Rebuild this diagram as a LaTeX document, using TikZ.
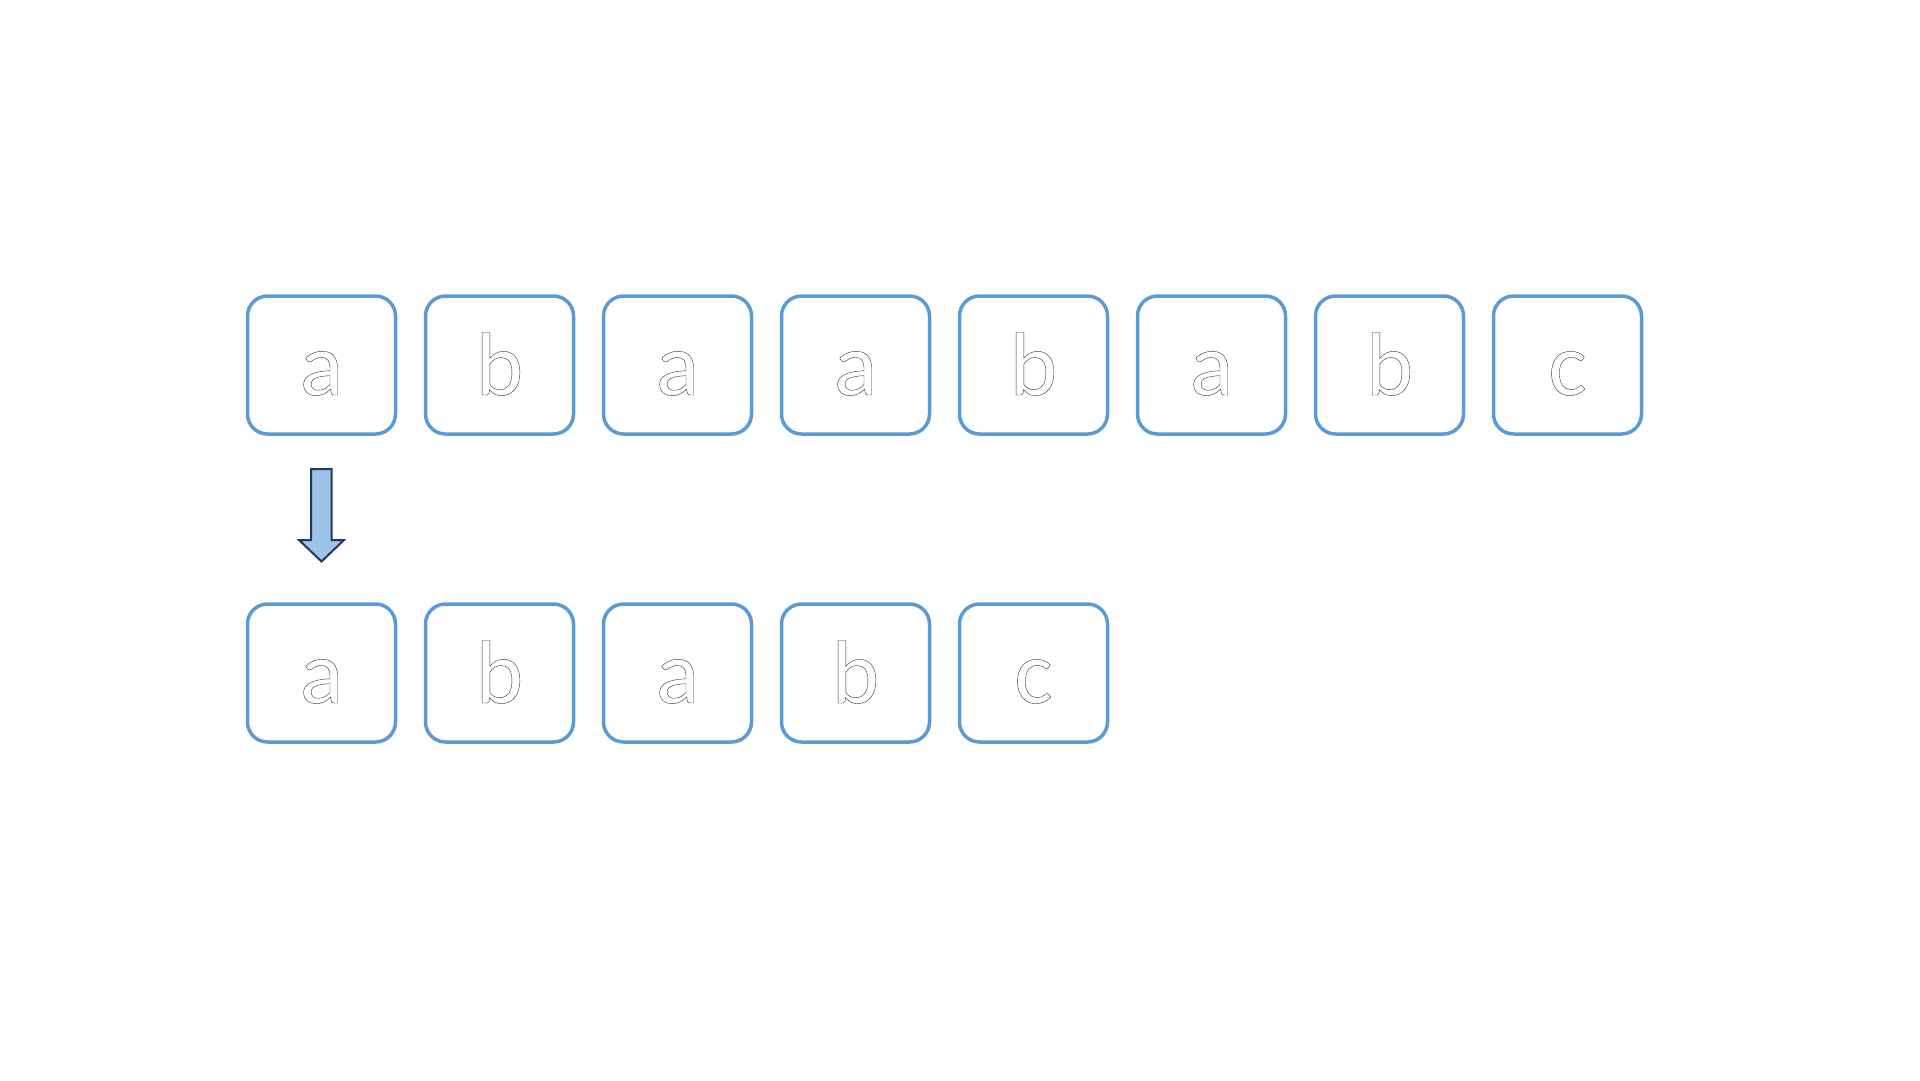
\documentclass[tikz,border=0pt]{standalone}
\usepackage{fontspec}
\setmainfont{Carlito}
\definecolor{boxblue}{HTML}{5B9BD5}
\definecolor{arrowfill}{HTML}{9DC3E6}
\definecolor{arrowline}{HTML}{1F3864}
\newcommand{\outl}[1]{\special{pdf:literal direct 0.2 G 0.4 w 2 Tr}#1\special{pdf:literal direct 0 Tr 0 G}}
\tikzset{
  cell/.style={draw=boxblue, line width=3.5pt, rounded corners=20pt, minimum width=148pt, minimum height=138pt, inner sep=0pt, fill=white},
  letter/.style={anchor=base, inner sep=0pt, font=\fontsize{90pt}{90pt}\selectfont, text=white},
  blockarrow/.style={draw=arrowline, fill=arrowfill, line width=2pt, line join=miter}
}
\begin{document}
\begin{tikzpicture}[x=1pt,y=-1pt]
\useasboundingbox (0,0) rectangle (1920,1080);
\foreach \t [count=\i from 0] in {a,b,a,a,b,a,b,c}{
  \node[cell] (t\i) at (321.5+178*\i,365) {};
  \node[letter] (tl\i) at (321.5+178*\i,395) {\outl{\t}};
}
\foreach \t [count=\i from 0] in {a,b,a,b,c}{
  \node[cell] (p\i) at (321.5+178*\i,673) {};
  \node[letter] (pl\i) at (321.5+178*\i,703) {\outl{\t}};
}
\draw[blockarrow] (311,469) -- (331.5,469) -- (331.5,540) -- (344,540) -- (321.5,561.5) -- (299,540) -- (311,540) -- cycle;
\end{tikzpicture}
\end{document}
